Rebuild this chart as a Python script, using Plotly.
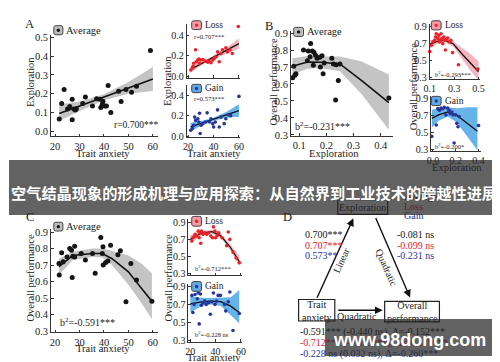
import plotly.graph_objects as go

W, H = 500, 362
SERIF = "Liberation Serif, Times New Roman, serif"

# ---------------- data ----------------
# Panel A : exploration vs trait anxiety
a_avg_x = [21.7, 22.7, 23.7, 25.1, 26.0, 27.0, 27.0, 27.7, 28.3, 28.7, 31.3, 32.4, 35.3, 37.0,
           38.4, 38.7, 39.3, 39.6, 40.3, 41.0, 41.7, 42.8, 46.0, 47.0, 49.0, 51.3, 53.3, 59.0]
a_avg_y = [0.066, 0.148, 0.222, 0.118, 0.132, 0.170, 0.061, 0.118, 0.113, 0.120, 0.148, 0.182, 0.135, 0.173,
           0.170, 0.127, 0.144, 0.160, 0.135, 0.135, 0.243, 0.100, 0.213, 0.158, 0.222, 0.208, 0.240, 0.430]
a_avg_fx = [21.7, 30, 40, 50, 60]
a_avg_fy = [0.095, 0.135, 0.182, 0.230, 0.278]
a_avg_hi = [0.142, 0.158, 0.197, 0.262, 0.342]
a_avg_lo = [0.055, 0.108, 0.165, 0.200, 0.214]

a_loss_x = [22.1, 23.4, 23.9, 24.4, 25.9, 26.5, 27.7, 28.5, 29.0, 29.8, 31.6, 33.7, 35.5, 36.5, 38.0,
            39.4, 40.6, 41.9, 43.2, 44.5, 45.8, 47.0, 49.7, 50.9, 53.0, 54.8, 59.5]
a_loss_y = [0.064, 0.080, 0.100, 0.128, 0.260, 0.144, 0.160, 0.170, 0.128, 0.160, 0.166, 0.150, 0.140, 0.150, 0.134,
            0.160, 0.176, 0.190, 0.240, 0.144, 0.224, 0.260, 0.280, 0.240, 0.260, 0.224, 0.486]
a_loss_fx = [22, 31, 40, 50, 60]
a_loss_fy = [0.070, 0.130, 0.190, 0.255, 0.320]
a_loss_hi = [0.100, 0.145, 0.205, 0.280, 0.370]
a_loss_lo = [0.040, 0.115, 0.170, 0.220, 0.270]

a_gain_x = [22.1, 23.4, 24.4, 25.2, 25.9, 27.7, 28.5, 29.0, 29.5, 30.3, 31.6, 33.7, 35.0, 36.8, 38.0,
            39.4, 40.1, 41.4, 43.2, 44.5, 45.8, 48.4, 49.7, 51.7, 53.5, 60.0]
a_gain_y = [0.058, 0.074, 0.106, 0.186, 0.154, 0.170, 0.138, 0.224, 0.026, 0.106, 0.122, 0.138, 0.227, 0.138, 0.170,
            0.122, 0.090, 0.138, 0.256, 0.090, 0.186, 0.122, 0.170, 0.208, 0.200, 0.387]
a_gain_fx = [22, 31, 40, 50, 60]
a_gain_fy = [0.090, 0.130, 0.166, 0.208, 0.250]
a_gain_hi = [0.130, 0.150, 0.180, 0.235, 0.310]
a_gain_lo = [0.050, 0.105, 0.150, 0.180, 0.190]

# Panel B : overall performance vs exploration
b_avg_x = [0.076, 0.084, 0.088, 0.080, 0.116, 0.142, 0.133, 0.148, 0.154, 0.130, 0.152, 0.166, 0.176, 0.184,
           0.178, 0.188, 0.192, 0.220, 0.226, 0.236, 0.234, 0.244, 0.250, 0.160, 0.140, 0.430]
b_avg_y = [0.637, 0.652, 0.660, 0.704, 0.800, 0.839, 0.794, 0.794, 0.787, 0.737, 0.710, 0.752, 0.758, 0.767,
           0.700, 0.660, 0.723, 0.752, 0.718, 0.714, 0.506, 0.621, 0.718, 0.770, 0.760, 0.517]
b_avg_fx = [0.075, 0.13, 0.18, 0.25, 0.33, 0.43]
b_avg_fy = [0.705, 0.730, 0.728, 0.718, 0.620, 0.490]
b_avg_hi = [0.752, 0.765, 0.762, 0.762, 0.733, 0.656]
b_avg_lo = [0.656, 0.690, 0.694, 0.675, 0.540, 0.330]

b_loss_x = [0.100, 0.113, 0.127, 0.140, 0.148, 0.153, 0.167, 0.175, 0.180, 0.188, 0.193, 0.199, 0.207, 0.215,
            0.220, 0.228, 0.233, 0.247, 0.260, 0.273, 0.287, 0.335, 0.495]
b_loss_y = [0.606, 0.682, 0.720, 0.740, 0.778, 0.816, 0.759, 0.797, 0.720, 0.740, 0.816, 0.759, 0.700, 0.778,
            0.740, 0.625, 0.748, 0.766, 0.720, 0.740, 0.595, 0.453, 0.403]
b_loss_fx = [0.10, 0.16, 0.22, 0.29, 0.37, 0.44, 0.50]
b_loss_fy = [0.690, 0.725, 0.740, 0.700, 0.570, 0.460, 0.370]
b_loss_hi = [0.740, 0.750, 0.760, 0.730, 0.640, 0.570, 0.490]
b_loss_lo = [0.640, 0.700, 0.720, 0.670, 0.510, 0.370, 0.270]

b_gain_x = [-0.010, 0.029, 0.043, 0.057, 0.071, 0.086, 0.100, 0.114, 0.129, 0.143, 0.151, 0.166, 0.177,
            0.186, 0.200, 0.209, 0.220, 0.229, 0.400]
b_gain_y = [0.455, 0.590, 0.784, 0.764, 0.790, 0.784, 0.800, 0.710, 0.790, 0.764, 0.725, 0.745, 0.710,
            0.377, 0.710, 0.610, 0.570, 0.690, 0.585]
b_gain_fx = [-0.01, 0.05, 0.13, 0.21, 0.30, 0.39]
b_gain_fy = [0.668, 0.710, 0.745, 0.706, 0.610, 0.515]
b_gain_hi = [0.770, 0.790, 0.800, 0.790, 0.800, 0.800]
b_gain_lo = [0.560, 0.640, 0.690, 0.620, 0.450, 0.290]

# Panel C : overall performance vs trait anxiety
c_avg_x = [21.6, 21.7, 22.7, 23.3, 24.9, 26.0, 26.7, 27.0, 27.3, 28.0, 28.0, 30.7, 32.4, 35.3,
           36.4, 38.7, 39.3, 39.6, 39.7, 40.7, 41.6, 42.7, 45.7, 46.7, 49.0, 51.0, 53.3, 59.6]
c_avg_y = [0.709, 0.640, 0.774, 0.720, 0.749, 0.800, 0.789, 0.625, 0.753, 0.813, 0.748, 0.770, 0.730, 0.770,
           0.650, 0.867, 0.770, 0.810, 0.700, 0.716, 0.724, 0.820, 0.762, 0.787, 0.478, 0.710, 0.610, 0.480]
c_avg_fx = [21.6, 27.3, 35.3, 39.3, 43.3, 50.0, 55.3, 59.6]
c_avg_fy = [0.690, 0.758, 0.770, 0.770, 0.738, 0.659, 0.560, 0.480]
c_avg_hi = [0.738, 0.780, 0.800, 0.800, 0.787, 0.758, 0.710, 0.650]
c_avg_lo = [0.640, 0.730, 0.748, 0.745, 0.700, 0.580, 0.470, 0.373]

c_loss_x = [21.25, 22.0, 23.0, 23.75, 25.0, 26.25, 27.0, 27.5, 28.25, 28.75, 30.0, 31.25, 33.0, 34.5,
            36.25, 37.5, 38.25, 39.5, 40.0, 41.25, 42.5, 45.0, 48.75, 50.0, 51.25, 53.75, 56.25, 58.75]
c_loss_y = [0.682, 0.720, 0.731, 0.759, 0.740, 0.797, 0.720, 0.778, 0.655, 0.797, 0.759, 0.778, 0.759, 0.778,
            0.740, 0.720, 0.847, 0.797, 0.720, 0.747, 0.778, 0.720, 0.625, 0.786, 0.700, 0.550, 0.480, 0.426]
c_loss_fx = [20, 29, 37, 44, 51.5, 58.7]
c_loss_fy = [0.700, 0.775, 0.792, 0.745, 0.610, 0.440]
c_loss_hi = [0.750, 0.800, 0.815, 0.770, 0.640, 0.510]
c_loss_lo = [0.650, 0.750, 0.770, 0.720, 0.575, 0.380]

c_gain_x = [21.25, 22.0, 23.0, 23.75, 25.5, 26.25, 27.0, 28.0, 28.75, 30.0, 31.25, 32.5, 34.5, 35.75,
            37.0, 38.25, 39.5, 40.75, 42.0, 43.75, 47.0, 48.0, 50.0, 51.25, 53.75, 58.75]
c_gain_y = [0.800, 0.610, 0.700, 0.810, 0.762, 0.827, 0.482, 0.816, 0.689, 0.718, 0.736, 0.700, 0.718, 0.590,
            0.729, 0.827, 0.700, 0.736, 0.800, 0.800, 0.700, 0.627, 0.729, 0.838, 0.409, 0.598]
c_gain_fx = [20, 30, 36, 44, 52, 58.7]
c_gain_fy = [0.705, 0.730, 0.736, 0.730, 0.680, 0.610]
c_gain_hi = [0.790, 0.770, 0.770, 0.775, 0.780, 0.860]
c_gain_lo = [0.610, 0.690, 0.700, 0.685, 0.580, 0.490]

# texts
stat_texts = ["r=0.700***", "r=0.707***", "r=0.573***",
              "b<sup>2</sup>=-0.231***", "b<sup>2</sup>=-0.293***", "b<sup>2</sup>=-0.200*",
              "b<sup>2</sup>=-0.591***", "b<sup>2</sup>=-0.712***", "b<sup>2</sup>=-0.228 ns"]
d_linear = ["0.700***", "0.707***", "0.573**"]
d_quad = ["-0.081 ns", "-0.099 ns", "-0.231 ns"]
d_total = ["-0.591*** (-0.440 ns), Δ=-0.152***", "-0.712*** (-0.593***), Δ=-0.119***",
           "-0.228 ns (0.032 ns), Δ=-0.260***"]
banner_text = "空气结晶现象的形成机理与应用探索：从自然界到工业技术的跨越性进展"
watermark_text = "www.98dong.com"

# ---------------- styling ----------------
C_BLACK, C_RED, C_BLUE = "#151515", "#ec2227", "#28369a"
BAND = {"avg": "#c4c4c4", "loss": "#f5b4bf", "gain": "#66b3ea"}
DOT = {"avg": C_BLACK, "loss": C_RED, "gain": C_BLUE}
LEGFILL = {"avg": "#bdbdbd", "loss": "#f39aa7", "gain": "#62a9e3"}


def px(x):
    return x / W


def py(y):
    return 1 - y / H


panels = [
    dict(kind="avg", xpx=(38, 147), xr=(18.4, 62), ypx=(128, 25), yr=(-0.026, 0.51),
         xt=[20, 30, 40, 50, 60], yt=[0, 0.1, 0.2, 0.3, 0.4, 0.5], xf="d", xlab=True,
         data=(a_avg_x, a_avg_y, a_avg_fx, a_avg_fy, a_avg_hi, a_avg_lo)),
    dict(kind="loss", xpx=(176.7, 231.3), xr=(19, 61), ypx=(68.3, 13.3), yr=(-0.012, 0.51),
         xt=[20, 40, 60], yt=[0, 0.2, 0.4], xf="d", xlab=False,
         data=(a_loss_x, a_loss_y, a_loss_fx, a_loss_fy, a_loss_hi, a_loss_lo)),
    dict(kind="gain", xpx=(176.7, 231.3), xr=(19, 61), ypx=(129.3, 76), yr=(-0.012, 0.495),
         xt=[20, 40, 60], yt=[0, 0.2, 0.4], xf="d", xlab=True,
         data=(a_gain_x, a_gain_y, a_gain_fx, a_gain_fy, a_gain_hi, a_gain_lo)),
    dict(kind="avg", xpx=(283.3, 388), xr=(0.07, 0.447), ypx=(127.7, 20), yr=(0.294, 0.915),
         xt=[0.1, 0.2, 0.3, 0.4], yt=[0.3, 0.4, 0.5, 0.6, 0.7, 0.8, 0.9], xf=".1f", xlab=True,
         data=(b_avg_x, b_avg_y, b_avg_fx, b_avg_fy, b_avg_hi, b_avg_lo)),
    dict(kind="loss", xpx=(425, 476.3), xr=(0.0995, 0.51), ypx=(70, 13.3), yr=(0.28, 0.93),
         xt=[0.1, 0.3, 0.5], yt=[0.3, 0.5, 0.7, 0.9], xf=".1f", xlab=True,
         data=(b_loss_x, b_loss_y, b_loss_fx, b_loss_fy, b_loss_hi, b_loss_lo)),
    dict(kind="gain", xpx=(426.7, 477), xr=(-0.014, 0.417), ypx=(143.3, 87.3), yr=(0.28, 0.93),
         xt=[0.0, 0.2, 0.4], yt=[0.3, 0.5, 0.7, 0.9], xf=".1f", xlab=True,
         data=(b_gain_x, b_gain_y, b_gain_fx, b_gain_fy, b_gain_hi, b_gain_lo)),
    dict(kind="avg", xpx=(38, 147), xr=(18.4, 62), ypx=(328.3, 223.3), yr=(0.294, 0.916),
         xt=[20, 30, 40, 50, 60], yt=[0.3, 0.4, 0.5, 0.6, 0.7, 0.8, 0.9], xf="d", xlab=True,
         data=(c_avg_x, c_avg_y, c_avg_fx, c_avg_fy, c_avg_hi, c_avg_lo)),
    dict(kind="loss", xpx=(178.3, 233.3), xr=(18.45, 61), ypx=(270, 212.7), yr=(0.28, 0.94),
         xt=[20, 40, 60], yt=[0.3, 0.5, 0.7, 0.9], xf="d", xlab=False,
         data=(c_loss_x, c_loss_y, c_loss_fx, c_loss_fy, c_loss_hi, c_loss_lo)),
    dict(kind="gain", xpx=(178.3, 233.3), xr=(18.45, 61), ypx=(338.3, 279.3), yr=(0.282, 0.926),
         xt=[20, 40, 60], yt=[0.3, 0.5, 0.7, 0.9], xf="d", xlab=True,
         data=(c_gain_x, c_gain_y, c_gain_fx, c_gain_fy, c_gain_hi, c_gain_lo)),
]

fig = go.Figure()
layout = dict(width=W, height=H, margin=dict(l=0, r=0, t=0, b=0),
              paper_bgcolor="white", plot_bgcolor="rgba(0,0,0,0)", showlegend=False,
              font=dict(family=SERIF, color="#222"))

for i, p in enumerate(panels, start=1):
    sx = "" if i == 1 else str(i)
    xs, ys, fx, fy, hi, lo = p["data"]
    main = p["kind"] == "avg"
    fig.add_trace(go.Scatter(x=fx + fx[::-1], y=hi + lo[::-1], fill="toself", mode="lines",
                             line=dict(width=0), fillcolor=BAND[p["kind"]], hoverinfo="skip",
                             xaxis="x" + sx, yaxis="y" + sx))
    fig.add_trace(go.Scatter(x=fx, y=fy, mode="lines", line=dict(color="#111", width=1.6 if main else 1.3),
                             xaxis="x" + sx, yaxis="y" + sx))
    fig.add_trace(go.Scatter(x=xs, y=ys, mode="markers",
                             marker=dict(size=5 if main else 3.6, color=DOT[p["kind"]]),
                             cliponaxis=False, xaxis="x" + sx, yaxis="y" + sx))
    common = dict(showline=True, linecolor="#333", linewidth=1, showgrid=False, zeroline=False,
                  ticks="inside", ticklen=2.5, tickwidth=1, tickcolor="#333",
                  tickfont=dict(family=SERIF, size=10.5 if main else 10, color="#222"))
    layout["xaxis" + sx] = dict(common, domain=[px(p["xpx"][0]), px(p["xpx"][1])], range=list(p["xr"]),
                                anchor="y" + sx, tickvals=p["xt"], tickformat=p["xf"],
                                showticklabels=p["xlab"])
    layout["yaxis" + sx] = dict(common, domain=[py(p["ypx"][0]), py(p["ypx"][1])], range=list(p["yr"]),
                                anchor="x" + sx, tickvals=p["yt"], tickformat=".1f")

annotations = []
shapes = []


def ann(text, x, y, size=10, color="#222", xanchor="center", angle=0, family=SERIF, **kw):
    d = dict(text=text, x=px(x), y=py(y), xref="paper", yref="paper", showarrow=False,
             xanchor=xanchor, yanchor="middle", textangle=angle,
             font=dict(family=family, size=size, color=color))
    d.update(kw)
    annotations.append(d)


# panel letters
for t, x, y in [("A", 16, 13), ("B", 261, 15), ("C", 16, 211), ("D", 280, 211)]:
    ann(t, x, y, size=12.5)

# axis titles
ann("Exploration", 17, 73, size=10.5, angle=-90)
ann("Trait anxiety", 91, 145.5, size=10.5)
ann("Exploration", 157, 72, size=10.5, angle=-90)
ann("Trait anxiety", 205, 146, size=10.5)
ann("Overall performance", 265, 73, size=10.5, angle=-90)
ann("Exploration", 327, 145.5, size=10.5)
ann("Overall performance", 408, 78, size=10.5, angle=-90)
ann("Exploration", 453, 160, size=10.5)
ann("Overall performance", 17, 273, size=10.5, angle=-90)
ann("Trait anxiety", 91, 345, size=10.5)
ann("Overall performance", 158, 273, size=10.5, angle=-90)
ann("Trait anxiety", 205, 354.5, size=10.5)

# statistic texts
stat_pos = [(100, 117, 9.5), (182, 26, 6.5), (182, 89, 6.5),
            (285, 118, 10), (428, 64, 6.5), (428, 138, 6.5),
            (45, 318, 10), (183, 263, 6.5), (183, 330, 6.5)]
for t, (x, y, s) in zip(stat_texts, stat_pos):
    ann(t, x, y, size=s, xanchor="left")


def rounded_rect(x0, y0, x1, y1, r):
    X = lambda v: px(v)
    Y = lambda v: py(v)
    return (f"M {X(x0 + r)},{Y(y0)} L {X(x1 - r)},{Y(y0)} Q {X(x1)},{Y(y0)} {X(x1)},{Y(y0 + r)} "
            f"L {X(x1)},{Y(y1 - r)} Q {X(x1)},{Y(y1)} {X(x1 - r)},{Y(y1)} "
            f"L {X(x0 + r)},{Y(y1)} Q {X(x0)},{Y(y1)} {X(x0)},{Y(y1 - r)} "
            f"L {X(x0)},{Y(y0 + r)} Q {X(x0)},{Y(y0)} {X(x0 + r)},{Y(y0)} Z")


legends = [("avg", "Average", (40.7, 15, 50, 24.3), 10.5),
           ("loss", "Loss", (181.7, 10, 191.7, 19), 9.5),
           ("gain", "Gain", (181.7, 75, 191.7, 83.5), 9.5),
           ("avg", "Average", (286, 16.7, 296, 26), 10.5),
           ("loss", "Loss", (426.7, 10, 436.7, 19.3), 9.5),
           ("gain", "Gain", (426.7, 87.3, 436.7, 96.7), 9.5),
           ("avg", "Average", (40.7, 216, 50, 225), 10.5),
           ("loss", "Loss", (181.7, 210, 191.7, 220), 9.5),
           ("gain", "Gain", (181.7, 276.7, 191.7, 286.7), 9.5)]
for kind, label, (x0, y0, x1, y1), s in legends:
    shapes.append(dict(type="path", path=rounded_rect(x0, y0, x1, y1, 2), xref="paper", yref="paper",
                       fillcolor=LEGFILL[kind], line=dict(color="#444", width=1), layer="above"))
    cx, cy, r = (x0 + x1) / 2, (y0 + y1) / 2, 1.7
    shapes.append(dict(type="circle", xref="paper", yref="paper", x0=px(cx - r), x1=px(cx + r),
                       y0=py(cy + r), y1=py(cy - r), fillcolor=DOT[kind], line=dict(width=0), layer="above"))
    ann(label, x1 + 1.5, cy, size=s, xanchor="left")

# ---------------- panel D diagram ----------------
for (x0, y0, x1, y1) in [(331, 193, 382, 208), (291, 295, 328, 317), (379, 297, 435, 318)]:
    shapes.append(dict(type="rect", xref="paper", yref="paper", x0=px(x0), x1=px(x1), y0=py(y1), y1=py(y0),
                       line=dict(color="#222", width=1.2), fillcolor="white", layer="above"))
ann("Exploration", 356.5, 201, size=10)
ann("Trait<br>anxiety", 309.5, 306.5, size=10)
ann("Overall<br>performance", 407, 307.5, size=10)
ann("Average", 397, 190, size=10, color=C_BLACK, xanchor="left")
ann("Loss", 397, 200, size=10, color=C_RED, xanchor="left")
ann("Gain", 397, 209.5, size=10, color=C_BLUE, xanchor="left")

for hx, hy, tx, ty in [(347, 212, 310, 293), (405, 293, 370, 212), (377, 306, 331, 306)]:
    annotations.append(dict(text="", x=px(hx), y=py(hy), xref="paper", yref="paper", showarrow=True,
                            ax=tx - hx, ay=ty - hy, axref="pixel", ayref="pixel",
                            arrowhead=2, arrowsize=1.1, arrowwidth=1.4, arrowcolor="#111", standoff=0))
ann("Linear", 334.5, 255, size=10, angle=-65)
ann("Quadratic", 381, 262, size=10, angle=66)
ann("Quadratic", 351, 312, size=10)

cols = [C_BLACK, C_RED, C_BLUE]
for k in range(3):
    ann(d_linear[k], 295, 229 + 10.7 * k, size=10, color=cols[k], xanchor="left")
    ann(d_quad[k], 390, 229 + 10.7 * k, size=10, color=cols[k], xanchor="left")
    ann(d_total[k], 290, 328 + 11.5 * k, size=10, color=cols[k], xanchor="left")

# ---------------- overlays ----------------
OVER = "rgba(38,38,38,0.72)"
ann("\u00a0", 250, 180.5, size=10, width=500, height=55, bgcolor=OVER, borderpad=0, borderwidth=0)
annotations.append(dict(text=banner_text, x=px(245.5), y=py(185), xref="paper", yref="paper",
                        showarrow=False, xanchor="center", yanchor="middle",
                        font=dict(family="Noto Sans CJK SC", size=15.2, color="white", weight="bold")))
ann("\u00a0", 405, 333.5, size=10, width=170, height=37, bgcolor=OVER, borderpad=0, borderwidth=0)
annotations.append(dict(text=watermark_text, x=px(404.5), y=py(336.5), xref="paper", yref="paper",
                        showarrow=False, xanchor="center", yanchor="middle",
                        font=dict(family="Liberation Sans, Arial, sans-serif", size=18, color="white",
                                  weight="bold")))

layout["annotations"] = annotations
layout["shapes"] = shapes
fig.update_layout(**layout)
fig.write_html("out.html")
